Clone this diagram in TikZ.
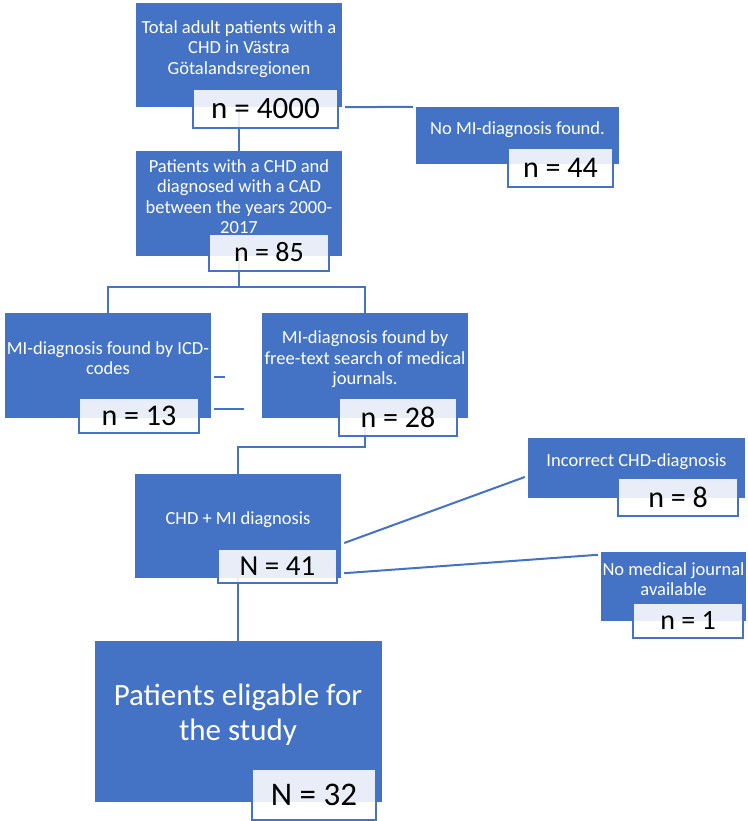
\documentclass[tikz,border=0pt]{standalone}
\usepackage{fontspec}
\setmainfont{Carlito}
\usetikzlibrary{positioning,calc}
\definecolor{boxblue}{HTML}{4472C4}
\definecolor{linkblue}{HTML}{4472C4}

\begin{document}
\begin{tikzpicture}[x=1pt, y=1pt,
  box/.style={fill=boxblue, text=white, inner sep=1pt, align=center, text depth=15pt, minimum width=206pt, minimum height=104pt, font=\fontsize{18.5}{20.5}\selectfont},
  count/.style={draw=boxblue, line width=1.8pt, fill=white, fill opacity=0.88, text opacity=1, text=black, inner sep=0pt, font=\fontsize{30}{36}\selectfont},
  link/.style={draw=linkblue, line width=2pt},
]
  \fill[white] (0,0) rectangle (747,821);

  % boxes
  \node[box] (total) at (239,766) {Total adult patients with a\\CHD in V\"astra\\G\"otalandsregionen};
  \node[box, minimum height=105pt, below=44pt of total] (ncad) {Patients with a CHD and\\diagnosed with a CAD\\between the years 2000-\\2017};
  \node[box, minimum height=105pt] (icd) at (108,455.5) {MI-diagnosis found by ICD-\\codes};
  \node[box, minimum height=105pt] (freetext) at (365,455.5) {MI-diagnosis found by\\free-text search of medical\\journals.};
  \node[box] (chdmi) at (238,295) {CHD + MI diagnosis};
  \node[box, minimum width=287pt, minimum height=161pt, text depth=20pt, font=\fontsize{31}{35}\selectfont, below=63pt of chdmi] (final) {Patients eligable for\\the study};
  \node[box, minimum width=203pt, minimum height=57pt] (nomi) at (517.5,685.5) {No MI-diagnosis found.};
  \node[box, minimum width=217pt, minimum height=60pt] (incorrect) at (636.5,353) {Incorrect CHD-diagnosis};
  \node[box, minimum width=145pt, minimum height=69pt] (nojournal) at (673.5,234.5) {No medical journal\\available};

  % connectors
  \draw[link] (total.south) -- (ncad.north);
  \draw[link, shorten <=3pt, shorten >=3pt] (total.south east) -- (nomi.north west);
  \draw[link] (ncad.south) -- ++(0,-30) coordinate (split);
  \draw[link] (split) -| (icd.north);
  \draw[link] (split) -| (freetext.north);
  \draw[link] ($(icd.east)+(3,-11.5)$) -- ++(11,0);
  \draw[link] ($(icd.east)+(3,-43.5)$) -- ++(30,0);
  \draw[link] (freetext.south) -- ++(0,-29) -| (chdmi.north);
  \draw[link] ($(chdmi.east)+(3,-17)$) -- ($(incorrect.west)+(-3,-9)$);
  \draw[link] ($(chdmi.south east)+(3,5)$) -- ($(nojournal.north west)+(-3,-3)$);
  \draw[link] (chdmi.south) -- (final.north);

  % counts
  \node[count, minimum width=145pt, minimum height=39pt, font=\fontsize{31}{36}\selectfont] (n4000) at (265.5,712.5) {n = 4000};
  \node[count, minimum width=120pt, minimum height=37pt, font=\fontsize{28}{34}\selectfont] (n85) at (269,568.5) {n = 85};
  \node[count, minimum width=105pt, minimum height=39pt] (n44) at (560.5,653.5) {n = 44};
  \node[count, minimum width=120pt, minimum height=35pt] (n13) at (139,405.5) {n = 13};
  \node[count, minimum width=118pt, minimum height=38pt] (n28) at (398,404) {n = 28};
  \node[count, minimum width=119pt, minimum height=34pt, font=\fontsize{29}{34}\selectfont] (n41) at (277.5,255) {N = 41};
  \node[count, minimum width=120pt, minimum height=38pt] (n8) at (678,324) {n = 8};
  \node[count, minimum width=110pt, minimum height=35pt, font=\fontsize{28}{34}\selectfont] (n1) at (688,200.5) {n = 1};
  \node[count, minimum width=124pt, minimum height=51pt, font=\fontsize{33}{40}\selectfont] (n32) at (314,26.5) {N = 32};
\end{tikzpicture}
\end{document}
